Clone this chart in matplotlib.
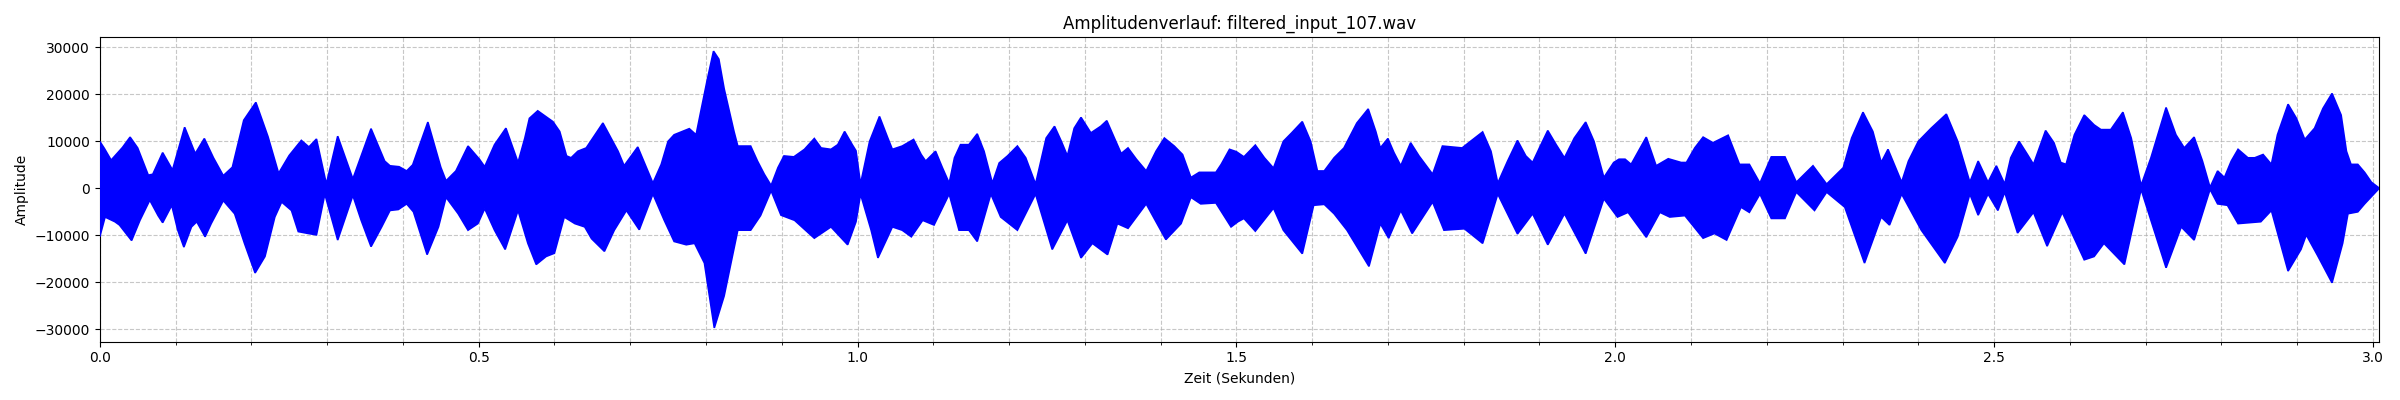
import numpy as np
import matplotlib
matplotlib.use("Agg")
import matplotlib.pyplot as plt
from matplotlib.ticker import MultipleLocator

# envelope of the waveform (seconds, amplitude in thousands)
t_upper = [0.000, 0.006, 0.015, 0.030, 0.040, 0.050, 0.064, 0.070, 0.083, 0.096,
           0.112, 0.126, 0.138, 0.150, 0.163, 0.175, 0.190, 0.206, 0.222, 0.236,
           0.250, 0.266, 0.276, 0.286, 0.299, 0.314, 0.334, 0.358, 0.376, 0.383,
           0.395, 0.405, 0.413, 0.433, 0.450, 0.457, 0.470, 0.486, 0.501, 0.508,
           0.521, 0.536, 0.552, 0.561, 0.567, 0.578, 0.598, 0.607, 0.616, 0.622,
           0.631, 0.642, 0.664, 0.684, 0.692, 0.710, 0.730, 0.741, 0.750, 0.758,
           0.778, 0.787, 0.794, 0.802, 0.810, 0.817, 0.824, 0.831, 0.837, 0.842,
           0.859, 0.868, 0.877, 0.886, 0.895, 0.903, 0.916, 0.930, 0.943, 0.952,
           0.965, 0.974, 0.983, 0.993, 0.998, 1.004, 1.016, 1.029, 1.040, 1.046,
           1.059, 1.074, 1.084, 1.090, 1.103, 1.112, 1.121, 1.128, 1.136, 1.147,
           1.158, 1.167, 1.178, 1.187, 1.198, 1.211, 1.222, 1.235, 1.249, 1.260,
           1.269, 1.277, 1.286, 1.295, 1.308, 1.321, 1.329, 1.339, 1.348, 1.357,
           1.368, 1.381, 1.394, 1.405, 1.418, 1.429, 1.440, 1.451, 1.473, 1.480,
           1.491, 1.500, 1.510, 1.525, 1.537, 1.549, 1.562, 1.573, 1.587, 1.598,
           1.607, 1.616, 1.629, 1.642, 1.659, 1.674, 1.684, 1.690, 1.700, 1.708,
           1.717, 1.730, 1.741, 1.759, 1.772, 1.785, 1.798, 1.809, 1.825, 1.836,
           1.845, 1.858, 1.871, 1.882, 1.891, 1.900, 1.911, 1.922, 1.933, 1.946,
           1.961, 1.972, 1.985, 1.998, 2.005, 2.013, 2.021, 2.041, 2.054, 2.070,
           2.087, 2.094, 2.105, 2.116, 2.129, 2.149, 2.164, 2.177, 2.191, 2.206,
           2.224, 2.239, 2.261, 2.279, 2.301, 2.312, 2.327, 2.340, 2.351, 2.360,
           2.378, 2.387, 2.400, 2.417, 2.437, 2.452, 2.468, 2.479, 2.492, 2.503,
           2.514, 2.522, 2.533, 2.544, 2.552, 2.568, 2.579, 2.588, 2.595, 2.606,
           2.619, 2.632, 2.641, 2.654, 2.670, 2.681, 2.694, 2.707, 2.727, 2.740,
           2.751, 2.764, 2.775, 2.785, 2.795, 2.804, 2.813, 2.822, 2.835, 2.844,
           2.855, 2.866, 2.874, 2.888, 2.899, 2.910, 2.923, 2.934, 2.946, 2.958,
           2.965, 2.971, 2.980, 2.989, 2.998, 3.007]
a_upper = [10.0, 8.5, 6.0, 8.7, 10.9, 8.6, 2.8, 3.0, 7.6, 3.9,
           13.0, 7.4, 10.6, 6.5, 2.7, 4.5, 14.5, 18.3, 11.0, 3.2,
           7.0, 10.2, 8.8, 10.5, 0.9, 11.1, 2.0, 12.7, 5.8, 4.8,
           4.6, 3.7, 5.0, 14.1, 4.5, 1.6, 3.7, 9.0, 6.2, 4.6,
           9.3, 12.8, 5.5, 10.7, 14.9, 16.5, 14.2, 12.1, 6.9, 6.5,
           7.9, 8.6, 13.9, 7.9, 4.8, 8.8, 1.1, 5.1, 10.0, 11.4,
           12.7, 11.4, 17.0, 23.3, 29.2, 27.5, 21.2, 16.3, 12.1, 9.0,
           9.0, 5.8, 3.0, 0.6, 4.4, 6.9, 6.7, 8.3, 10.6, 8.6,
           8.3, 9.3, 12.1, 9.3, 8.0, 0.9, 10.0, 15.3, 10.7, 8.3,
           9.0, 10.4, 7.2, 5.8, 7.9, 4.4, 1.1, 6.5, 9.3, 9.3,
           11.6, 7.9, 1.1, 5.4, 6.9, 9.0, 6.5, 0.9, 10.7, 13.2,
           10.0, 6.9, 12.8, 15.1, 11.8, 13.2, 14.4, 10.7, 7.4, 8.6,
           6.2, 3.7, 7.9, 10.7, 9.0, 7.2, 2.3, 3.4, 3.4, 5.1,
           8.3, 7.8, 6.7, 9.2, 6.5, 4.3, 10.0, 11.8, 14.2, 10.0,
           3.7, 3.7, 6.5, 8.6, 13.9, 16.9, 12.1, 8.6, 10.6, 7.6,
           4.8, 9.7, 6.9, 3.0, 9.0, 8.8, 8.6, 10.0, 12.0, 7.9,
           1.1, 5.8, 10.2, 6.9, 5.5, 8.6, 12.3, 9.3, 6.5, 10.7,
           14.1, 10.0, 2.3, 5.5, 6.2, 6.2, 5.1, 10.9, 4.8, 6.3,
           5.5, 5.5, 8.6, 10.9, 9.7, 11.3, 5.1, 5.1, 1.1, 6.7,
           6.7, 1.3, 4.8, 0.9, 4.4, 10.7, 16.2, 12.1, 5.5, 8.3,
           1.3, 5.8, 10.0, 12.8, 15.8, 10.0, 1.3, 5.8, 1.3, 4.8,
           0.9, 6.5, 10.0, 7.2, 5.1, 12.3, 9.7, 5.5, 5.1, 11.4,
           15.6, 13.5, 12.5, 12.5, 16.2, 10.7, 0.6, 6.5, 17.2, 11.4,
           8.6, 10.9, 5.8, 0.2, 3.7, 2.3, 5.8, 8.3, 6.5, 6.5,
           7.2, 5.1, 11.4, 17.9, 14.9, 10.4, 12.8, 17.0, 20.2, 15.6,
           7.9, 5.1, 5.1, 3.4, 1.3, 0.2]

t_lower = [0.000, 0.007, 0.020, 0.026, 0.042, 0.053, 0.066, 0.077, 0.083, 0.095,
           0.103, 0.111, 0.121, 0.128, 0.139, 0.147, 0.163, 0.178, 0.191, 0.205,
           0.218, 0.231, 0.240, 0.253, 0.262, 0.275, 0.286, 0.297, 0.314, 0.334,
           0.345, 0.358, 0.372, 0.383, 0.394, 0.405, 0.414, 0.432, 0.447, 0.457,
           0.473, 0.486, 0.499, 0.508, 0.521, 0.535, 0.552, 0.565, 0.576, 0.589,
           0.600, 0.613, 0.627, 0.640, 0.649, 0.666, 0.679, 0.695, 0.712, 0.730,
           0.745, 0.758, 0.774, 0.785, 0.798, 0.811, 0.824, 0.833, 0.842, 0.859,
           0.872, 0.886, 0.899, 0.917, 0.943, 0.965, 0.987, 0.998, 1.004, 1.018,
           1.027, 1.040, 1.046, 1.059, 1.071, 1.086, 1.101, 1.121, 1.134, 1.147,
           1.158, 1.176, 1.189, 1.211, 1.235, 1.257, 1.277, 1.295, 1.310, 1.330,
           1.343, 1.357, 1.381, 1.407, 1.427, 1.440, 1.453, 1.473, 1.493, 1.502,
           1.510, 1.525, 1.549, 1.562, 1.587, 1.602, 1.616, 1.629, 1.646, 1.675,
           1.690, 1.701, 1.717, 1.732, 1.759, 1.774, 1.801, 1.825, 1.845, 1.871,
           1.891, 1.911, 1.933, 1.961, 1.985, 2.003, 2.017, 2.041, 2.059, 2.072,
           2.092, 2.116, 2.131, 2.147, 2.166, 2.177, 2.191, 2.206, 2.224, 2.239,
           2.263, 2.279, 2.303, 2.329, 2.351, 2.362, 2.378, 2.404, 2.435, 2.452,
           2.468, 2.479, 2.492, 2.505, 2.514, 2.531, 2.552, 2.570, 2.590, 2.619,
           2.632, 2.645, 2.672, 2.694, 2.727, 2.747, 2.764, 2.785, 2.795, 2.808,
           2.822, 2.852, 2.866, 2.888, 2.905, 2.912, 2.927, 2.946, 2.960, 2.967,
           2.980, 2.989, 3.007]
a_lower = [-10.3, -6.1, -7.1, -7.8, -11.1, -6.8, -2.5, -5.8, -7.3, -3.6,
           -8.9, -12.5, -8.2, -7.1, -10.3, -7.5, -2.6, -5.4, -11.7, -18.0,
           -14.5, -6.1, -2.9, -4.7, -9.2, -9.6, -9.9, -1.2, -11.0, -1.5,
           -6.8, -12.4, -8.2, -4.7, -4.5, -3.3, -5.0, -14.1, -8.2, -1.9,
           -5.4, -8.9, -7.5, -4.3, -8.9, -13.0, -4.7, -11.7, -16.2, -14.5,
           -13.8, -6.1, -7.5, -8.2, -10.7, -13.4, -8.9, -4.7, -8.8, -1.2,
           -6.8, -11.3, -12.0, -11.7, -15.9, -29.7, -22.9, -15.9, -8.9, -8.9,
           -5.8, -0.5, -5.7, -6.8, -10.6, -8.2, -12.0, -7.1, -1.2, -8.9,
           -14.8, -10.3, -8.2, -8.9, -10.3, -6.8, -7.8, -1.2, -8.9, -8.9,
           -11.3, -1.2, -6.1, -8.9, -1.2, -13.0, -6.8, -14.8, -11.7, -14.1,
           -7.5, -8.5, -3.3, -10.9, -7.5, -1.9, -3.3, -3.1, -8.2, -7.1,
           -6.4, -9.1, -4.2, -8.9, -13.9, -3.6, -3.4, -5.4, -8.9, -16.6,
           -7.5, -10.6, -4.7, -9.6, -2.9, -8.9, -8.6, -11.7, -1.2, -9.7,
           -5.4, -12.0, -5.4, -13.9, -2.2, -6.1, -5.1, -10.4, -5.1, -6.1,
           -5.8, -10.6, -9.6, -11.0, -4.0, -5.1, -1.2, -6.4, -6.4, -0.8,
           -4.7, -0.8, -4.0, -15.9, -6.1, -7.8, -1.2, -8.9, -15.9, -10.3,
           -1.2, -5.7, -1.2, -4.7, -0.8, -9.5, -5.1, -12.3, -5.1, -15.2,
           -14.5, -11.7, -16.2, -0.2, -16.9, -8.2, -11.0, -0.2, -3.3, -3.6,
           -7.5, -7.1, -4.7, -17.6, -13.0, -9.9, -14.3, -20.1, -11.7, -5.4,
           -5.0, -3.3, -0.2]

duration = 3.008
title = "Amplitudenverlauf: filtered_input_107.wav"

up_t = np.array(t_upper)
up_a = np.array(a_upper) * 1000
lo_t = np.array(t_lower)
lo_a = np.array(a_lower) * 1000

fig, ax = plt.subplots(figsize=(24, 4), dpi=100)

# upper edge forward, lower edge back -> one closed shape
xs = np.concatenate([up_t, lo_t[::-1]])
ys = np.concatenate([up_a, lo_a[::-1]])
ax.fill(xs, ys, color="blue", linewidth=1.2, zorder=3)

ax.set_xlim(0, duration)
ax.xaxis.set_major_locator(MultipleLocator(0.5))
ax.xaxis.set_minor_locator(MultipleLocator(0.1))
ax.grid(True, which="both", linestyle="--", alpha=0.7)

ax.set_title(title)
ax.set_xlabel("Zeit (Sekunden)")
ax.set_ylabel("Amplitude")

plt.tight_layout()
plt.savefig("out.png")
